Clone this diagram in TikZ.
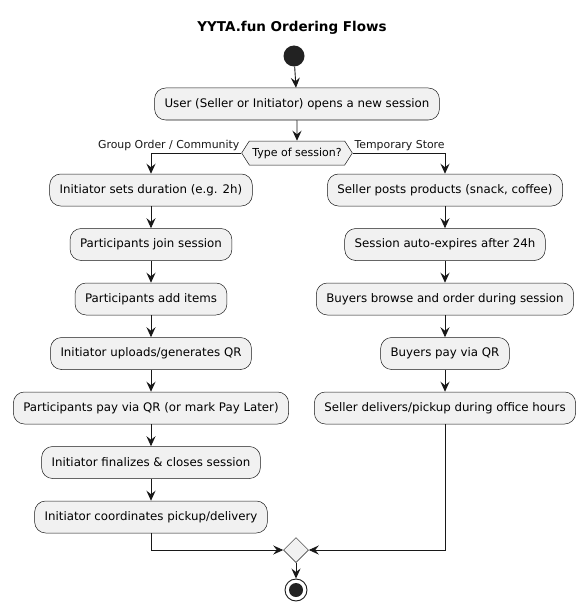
\documentclass[tikz,border=0pt]{standalone}
\usepackage{fontspec}
\setmainfont{DejaVu Sans}
\usetikzlibrary{arrows.meta, positioning, shapes.geometric, shapes.symbols}
\definecolor{act_fill}{HTML}{F1F1F1}
\definecolor{act_line}{HTML}{181818}
\definecolor{dot_fill}{HTML}{222222}

\begin{document}
\begin{tikzpicture}[x=1pt, y=-1pt,
    act/.style={rectangle, rounded corners=11pt, draw=act_line, fill=act_fill,
               line width=0.5pt, minimum height=32pt, inner xsep=10pt,
               font=\fontsize{11.8}{14}\selectfont},
    flow/.style={-{Stealth[length=10pt, width=9pt, inset=3.5pt]}, line width=0.9pt, act_line},
    lbl/.style={font=\fontsize{10.9}{12}\selectfont, inner sep=1.5pt},
  ]
  \useasboundingbox (0,0) rectangle (587,615);

  \node[font=\bfseries\fontsize{13.5}{16}\selectfont] (title) at (292,28) {YYTA.fun Ordering Flows};
  \node[circle, fill=dot_fill, minimum size=21pt, inner sep=0pt] (start) at (294,56) {};
  \node[act] (open) at (297,104) {User (Seller or Initiator) opens a new session};
  \node[signal, signal to=west and east, signal pointer angle=115, draw=act_line,
        fill=act_fill, line width=0.5pt, minimum height=24pt, inner xsep=3pt,
        font=\fontsize{11}{13}\selectfont] (type) at (297,153) {Type of session?};

  % group order branch
  \node[act] (grp1) at (151,190) {Initiator sets duration (e.g. 2h)};
  \node[act, below=22pt of grp1] (grp2) {Participants join session};
  \node[act, below=22pt of grp2] (grp3) {Participants add items};
  \node[act, below=22pt of grp3] (grp4) {Initiator uploads/generates QR};
  \node[act, below=22pt of grp4] (grp5) {Participants pay via QR (or mark Pay Later)};
  \node[act, below=22pt of grp5] (grp6) {Initiator finalizes \& closes session};
  \node[act, below=22pt of grp6] (grp7) {Initiator coordinates pickup/delivery};

  % temporary store branch
  \node[act] (tmp1) at (445,190) {Seller posts products (snack, coffee)};
  \node[act, below=22pt of tmp1] (tmp2) {Session auto-expires after 24h};
  \node[act, below=22pt of tmp2] (tmp3) {Buyers browse and order during session};
  \node[act, below=22pt of tmp3] (tmp4) {Buyers pay via QR};
  \node[act, below=22pt of tmp4] (tmp5) {Seller delivers/pickup during office hours};

  \node[diamond, draw=act_line, fill=act_fill, line width=0.5pt,
        minimum size=25pt, inner sep=0pt] (merge) at (296,550) {};
  \node[circle, draw=act_line, line width=0.9pt, minimum size=22pt, inner sep=0pt] (stop) at (296,590) {};
  \fill[dot_fill] (stop) circle (7pt);

  \draw[flow] (start) -- (open);
  \draw[flow] (open) -- (type);
  \draw[flow] (type.west) -| (grp1.north)
    node[lbl, pos=0, anchor=south east] {Group Order / Community};
  \draw[flow] (type.east) -| (tmp1.north)
    node[lbl, pos=0, anchor=south west] {Temporary Store};
  \foreach \a/\b in {grp1/grp2, grp2/grp3, grp3/grp4, grp4/grp5, grp5/grp6, grp6/grp7,
                     tmp1/tmp2, tmp2/tmp3, tmp3/tmp4, tmp4/tmp5}
    \draw[flow] (\a) -- (\b);
  \draw[flow] (grp7.south) |- (merge.west);
  \draw[flow] (tmp5.south) |- (merge.east);
  \draw[flow] (merge) -- (stop);
\end{tikzpicture}
\end{document}
